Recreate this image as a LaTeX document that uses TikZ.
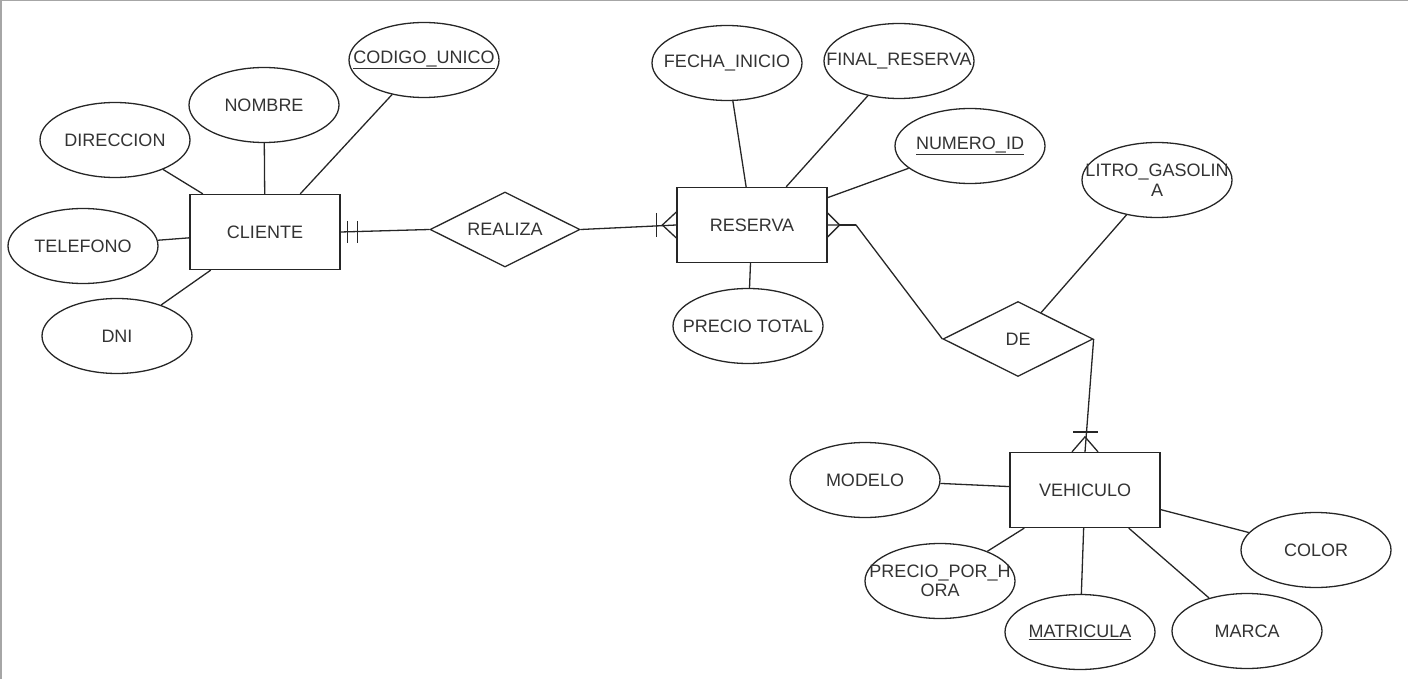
\documentclass[tikz,border=0pt]{standalone}
\usepackage{fontspec}
\setmainfont{Liberation Sans}
\usetikzlibrary{shapes.geometric,calc}
\begin{document}
\begin{tikzpicture}[x=1pt,y=-1pt,
 every node/.style={font=\fontsize{18}{19.5}\selectfont, text=black!80},
 ln/.style={draw=black!85, line width=1.3pt},
 ent/.style={ln, rectangle, minimum width=150pt, minimum height=75pt, inner sep=0pt},
 attr/.style={ln, ellipse, minimum width=150pt, minimum height=75pt, inner sep=0pt},
 rel/.style={ln, diamond, minimum width=150pt, minimum height=75pt, inner sep=0pt, aspect=2},
 lbl/.style={inner sep=0pt, align=center},
]
\useasboundingbox (0,0) rectangle (1408,679);
\draw[black!35, line width=1.5pt] (0.75,679) -- (0.75,0.75) -- (1408,0.75);

% CLIENTE side
\node[ent] (cli) at (265,232) {CLIENTE};
\node[attr] (dir) at (115,140) {}; \node[lbl] (dir-t) at (dir) {DIRECCION};
\node[attr] (nom) at (264,105) {}; \node[lbl] (nom-t) at (nom) {NOMBRE};
\node[attr] (cod) at (424,60) {}; \node[lbl] (cod-t) at (cod) {\underline{CODIGO\_UNICO}};
\node[attr] (tel) at (83,246) {}; \node[lbl] (tel-t) at (tel) {TELEFONO};
\node[attr] (dni) at (117,336) {}; \node[lbl] (dni-t) at (dni) {DNI};
\node[rel] (rea) at (505,229.5) {}; \node[lbl] (rea-t) at (rea) {REALIZA};

% RESERVA side
\node[ent] (res) at (752,225) {RESERVA};
\node[attr] (fec) at (727,63) {}; \node[lbl] (fec-t) at (fec) {FECHA\_INICIO};
\node[attr] (fin) at (899,61) {}; \node[lbl] (fin-t) at (fin) {FINAL\_RESERVA};
\node[attr] (num) at (970,146) {}; \node[lbl] (num-t) at (num) {\underline{NUMERO\_ID}};
\node[attr] (pre) at (748,326) {}; \node[lbl] (pre-t) at (pre) {PRECIO TOTAL};
\node[rel] (de) at (1018,339) {}; \node[lbl] (de-t) at (de) {DE};
\node[attr] (lit) at (1157,180) {}; \node[lbl] (lit-t) at (lit) {LITRO\_GASOLIN\\A};

% VEHICULO side
\node[ent] (veh) at (1085,490) {VEHICULO};
\node[attr] (mod) at (865,480) {}; \node[lbl] (mod-t) at (mod) {MODELO};
\node[attr] (pph) at (940,581) {}; \node[lbl] (pph-t) at (pph) {PRECIO\_POR\_H\\ORA};
\node[attr] (mat) at (1080,632) {}; \node[lbl] (mat-t) at (mat) {\underline{MATRICULA}};
\node[attr] (mar) at (1247,631) {}; \node[lbl] (mar-t) at (mar) {MARCA};
\node[attr] (col) at (1316,550) {}; \node[lbl] (col-t) at (col) {COLOR};

% attribute connectors
\draw[ln] (dir) -- (cli);
\draw[ln] (nom) -- (cli);
\draw[ln] (cod) -- (cli);
\draw[ln] (tel) -- (cli);
\draw[ln] (dni) -- (cli);
\draw[ln] (fec) -- (res);
\draw[ln] (fin) -- (res);
\draw[ln] (num) -- (res);
\draw[ln] (pre) -- (res);
\draw[ln] (lit) -- (de);
\draw[ln] (mod) -- (veh);
\draw[ln] (pph) -- (veh);
\draw[ln] (mat) -- (veh);
\draw[ln] (mar) -- (veh);
\draw[ln] (col) -- (veh);

% CLIENTE -- REALIZA (one and only one)
\draw[ln] (cli.east) -- (rea.west);
\draw[ln] ($(cli.east)+(7,-11)$) -- ++(0,22);
\draw[ln] ($(cli.east)+(17,-11)$) -- ++(0,22);

% REALIZA -- RESERVA (one or many)
\draw[ln] (rea.east) -- (res.west);
\draw[ln] ($(res.west)+(-20,-12)$) -- ++(0,24);
\draw[ln] ($(res.west)+(0,-13)$) -- ($(res.west)+(-14,0)$) -- ($(res.west)+(0,13)$);

% RESERVA -- DE (many)
\coordinate (bend) at (856,225);
\draw[ln] (res.east) -- (bend) -- (de.west);
\draw[ln] ($(res.east)+(0,-12)$) -- ($(res.east)+(12,0)$) -- ($(res.east)+(0,12)$);
\draw[ln, line width=2.2pt] ($(res.east)+(12,0)$) -- (bend);

% DE -- VEHICULO (one or many)
\draw[ln] (de.east) -- (veh.north);
\draw[ln] ($(veh.north)+(-12,-20)$) -- ++(25,0);
\draw[ln] ($(veh.north)+(-13,0)$) -- ($(veh.north)+(0,-15)$) -- ($(veh.north)+(13,0)$);
\end{tikzpicture}
\end{document}
